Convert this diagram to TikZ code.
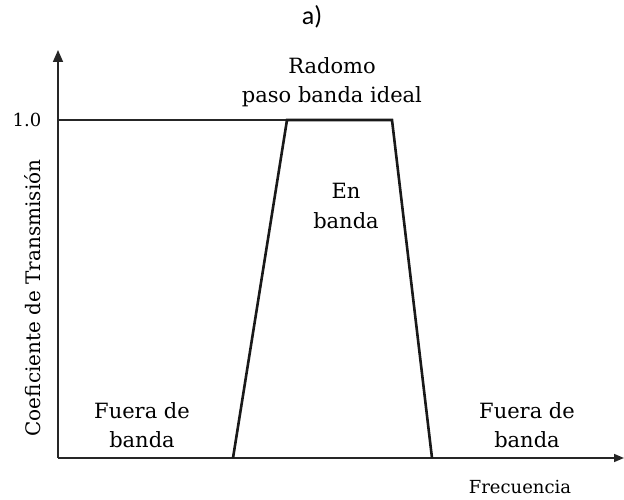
\documentclass[tikz,border=0pt]{standalone}
\usepackage{fontspec}
\setmainfont{DejaVu Serif}
\newfontfamily\labelfont{Carlito}
\usetikzlibrary{arrows.meta}

\begin{document}
\begin{tikzpicture}[x=1pt, y=-1pt,
                    txt/.style={align=center, text=black, font=\fontsize{21}{29.5}\selectfont},
                    axis/.style={draw=black!85, line width=1.6pt},
                    band/.style={draw=black!90, line width=2.6pt, line join=miter}]
	\useasboundingbox (0,0) rectangle (624,500);

	% axes
	\coordinate (o) at (58, 458);
	\coordinate (ytop) at (58, 50);
	\coordinate (xend) at (624, 458);
	\coordinate (one) at (58, 120);

	% trapezoid corners
	\coordinate (bl) at (233, 458);
	\coordinate (tl) at (287, 120);
	\coordinate (tr) at (392, 120);
	\coordinate (br) at (432, 458);

	\node[font=\labelfont\fontsize{26}{28}\selectfont] (title) at (312, 17) {a)};
	\node[txt] (radomo) at (332, 82) {Radomo\\paso banda ideal};
	\node[txt, font=\fontsize{18}{20}\selectfont] (uno) at (27, 120) {1.0};
	\node[txt] (enbanda) at (346, 206) {En\\banda};
	\node[txt] (fueraL) at (142, 425) {Fuera de\\banda};
	\node[txt] (fueraR) at (527, 425) {Fuera de\\banda};
	\node[txt, font=\fontsize{18}{20}\selectfont] (frec) at (520, 487) {Frecuencia};
	\node[txt, font=\fontsize{20}{22}\selectfont, rotate=90] (coef) at (33, 298) {Coeficiente de Transmisión};

	\path[axis, -{Triangle[length=12pt, width=10pt]}] (o) -- (ytop);
	\path[axis, -{Triangle[length=10pt, width=8pt]}] (o) -- (xend);
	\path[axis] (one) -- (tl);
	\path[band] (bl) -- (tl) -- (tr) -- (br);

\end{tikzpicture}
\end{document}
